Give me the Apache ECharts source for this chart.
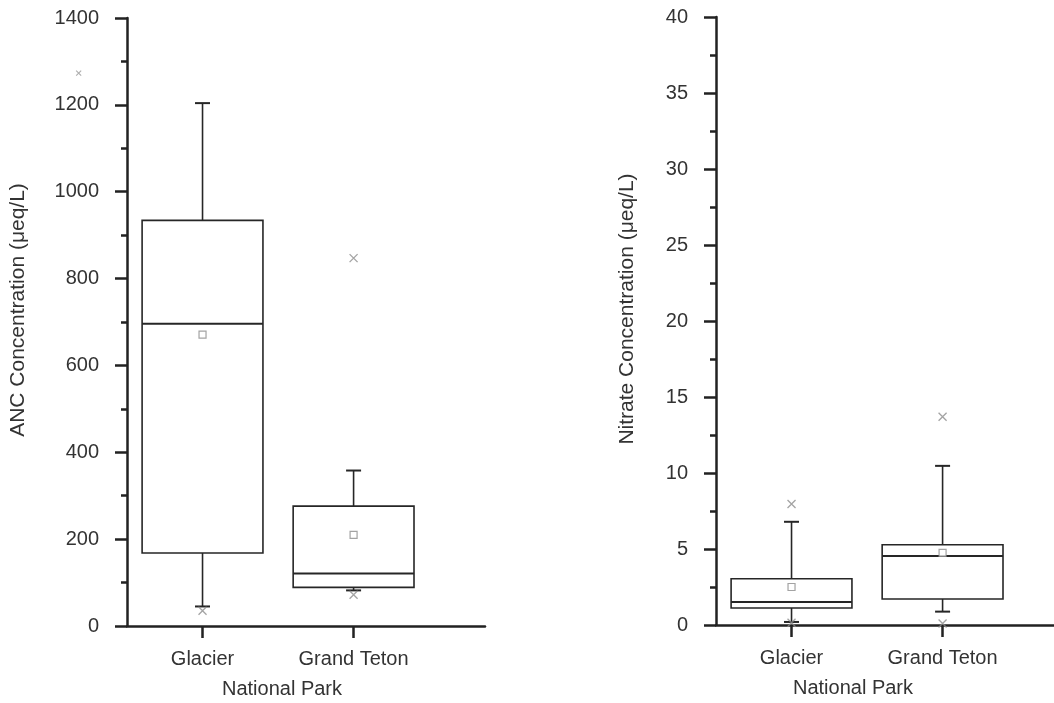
<!DOCTYPE html>
<html>
<head>
<meta charset="utf-8">
<script src="https://cdn.jsdelivr.net/npm/echarts@6/dist/echarts.min.js"></script>
<style>
  html, body { margin: 0; padding: 0; background: #fff; }
  #chart { width: 1054px; height: 703px; }
</style>
</head>
<body>
<div id="chart"></div>
<script>
// parks on the x axis (positions 1 and 2)
const parks = ["Glacier", "Grand Teton"];
const parkPos = [1, 2];

// box stats: [min whisker, Q1, median, Q3, max whisker]
const ancBoxes = [
  [45, 168, 696, 934, 1204],
  [82, 89, 121, 276, 358]
];
const ancMeans = [671, 210];
// x-marks (1% / 99% points), as [x, value]
const ancCrosses = [[1, 35], [2, 72], [2, 847]];
const ancStray = [[0.18, 1273]];

const no3Boxes = [
  [0.2, 1.12, 1.51, 3.04, 6.79],
  [0.88, 1.71, 4.54, 5.28, 10.47]
];
const no3Means = [2.5, 4.75];
const no3Crosses = [[1, 0.15], [1, 7.96], [2, 0.1], [2, 13.7]];

const BOX_W = 0.8;
const CAP = 7.5;
const INK = "#262626";
const MARK = "#8c8c8c";
const FONT = "Liberation Sans, Arial, sans-serif";
const CROSS = "path://M0,0L10,10M10,0L0,10";

function renderBox(params, api) {
  const x = api.value(0);
  const lo = api.coord([x, api.value(1)]);
  const q1 = api.coord([x, api.value(2)]);
  const med = api.coord([x, api.value(3)]);
  const q3 = api.coord([x, api.value(4)]);
  const hi = api.coord([x, api.value(5)]);
  const half = api.size([BOX_W, 0])[0] / 2;
  const cx = med[0];
  const ln = (x1, y1, x2, y2, w) => ({
    type: "line",
    shape: { x1: x1, y1: y1, x2: x2, y2: y2 },
    style: { stroke: INK, lineWidth: w || 1.6, fill: null }
  });
  return {
    type: "group",
    children: [
      ln(cx, q3[1], cx, hi[1]),
      ln(cx, q1[1], cx, lo[1]),
      ln(cx - CAP, hi[1], cx + CAP, hi[1], 2),
      ln(cx - CAP, lo[1], cx + CAP, lo[1], 2),
      {
        type: "rect",
        shape: { x: cx - half, y: q3[1], width: 2 * half, height: q1[1] - q3[1] },
        style: { stroke: INK, lineWidth: 1.6, fill: "#fff" }
      },
      ln(cx - half, med[1], cx + half, med[1], 2)
    ]
  };
}

const boxData = (boxes) => boxes.map((b, i) => [parkPos[i]].concat(b));
const meanData = (means) => means.map((m, i) => [parkPos[i], m]);

const chart = echarts.init(document.getElementById("chart"));

function xAxis(gridIndex, namePad) {
  return {
    type: "value",
    gridIndex: gridIndex,
    min: 0.5,
    max: 2.87,
    name: "National Park",
    nameLocation: "middle",
    nameGap: 53,
    nameTextStyle: { fontFamily: FONT, fontSize: 20, color: "#333", padding: [0, namePad, 0, 0] },
    axisLine: { lineStyle: { color: "#222", width: 2.5 } },
    axisTick: { show: true, customValues: parkPos, length: 12, lineStyle: { color: "#222", width: 2.5 } },
    axisLabel: {
      customValues: parkPos,
      formatter: (v) => parks[parkPos.indexOf(v)] || "",
      margin: 23,
      fontFamily: FONT, fontSize: 20, color: "#333"
    },
    splitLine: { show: false }
  };
}

function yAxis(gridIndex, max, interval, name, gap) {
  return {
    type: "value",
    gridIndex: gridIndex,
    min: 0,
    max: max,
    interval: interval,
    name: name,
    nameLocation: "middle",
    nameGap: gap,
    nameTextStyle: { fontFamily: FONT, fontSize: 21, color: "#333", padding: [0, 0, 0, 24] },
    axisLine: { show: true, lineStyle: { color: "#222", width: 2.5 } },
    axisTick: { show: true, length: 12, lineStyle: { color: "#222", width: 2.5 } },
    minorTick: { show: true, splitNumber: 2, length: 6, lineStyle: { color: "#222", width: 2.5 } },
    axisLabel: {
      margin: 28, fontFamily: FONT, fontSize: 20, color: "#333",
      formatter: (v) => String(v)
    },
    splitLine: { show: false }
  };
}

const option = {
  backgroundColor: "#fff",
  animation: false,
  grid: [
    { left: 127, top: 18, width: 358, bottom: 77, outerBoundsMode: "none" },
    { left: 716, top: 17, width: 358, bottom: 78, outerBoundsMode: "none" }
  ],
  xAxis: [xAxis(0, 48), xAxis(1, 84)],
  yAxis: [
    yAxis(0, 1400, 200, "ANC Concentration (\u03bceq/L)", 98),
    yAxis(1, 40, 5, "Nitrate Concentration (\u03bceq/L)", 78)
  ],
  series: [
    { type: "custom", xAxisIndex: 0, yAxisIndex: 0, renderItem: renderBox, data: boxData(ancBoxes), z: 2 },
    { type: "custom", xAxisIndex: 1, yAxisIndex: 1, renderItem: renderBox, data: boxData(no3Boxes), z: 2 },
    {
      type: "scatter", xAxisIndex: 0, yAxisIndex: 0, data: meanData(ancMeans),
      symbol: "rect", symbolSize: 7, z: 3,
      itemStyle: { color: "#fff", borderColor: MARK, borderWidth: 1.2 }
    },
    {
      type: "scatter", xAxisIndex: 1, yAxisIndex: 1, data: meanData(no3Means),
      symbol: "rect", symbolSize: 7, z: 3,
      itemStyle: { color: "#fff", borderColor: MARK, borderWidth: 1.2 }
    },
    {
      type: "scatter", xAxisIndex: 0, yAxisIndex: 0, data: ancCrosses,
      symbol: CROSS, symbolSize: 8, z: 3,
      itemStyle: { color: "none", borderColor: MARK, borderWidth: 1.3 }
    },
    {
      type: "scatter", xAxisIndex: 0, yAxisIndex: 0, data: ancStray, clip: false,
      symbol: CROSS, symbolSize: 5, z: 3,
      itemStyle: { color: "none", borderColor: "#999", borderWidth: 1.1 }
    },
    {
      type: "scatter", xAxisIndex: 1, yAxisIndex: 1, data: no3Crosses,
      symbol: CROSS, symbolSize: 8, z: 3,
      itemStyle: { color: "none", borderColor: MARK, borderWidth: 1.3 }
    }
  ]
};

chart.setOption(option);
</script>
</body>
</html>
